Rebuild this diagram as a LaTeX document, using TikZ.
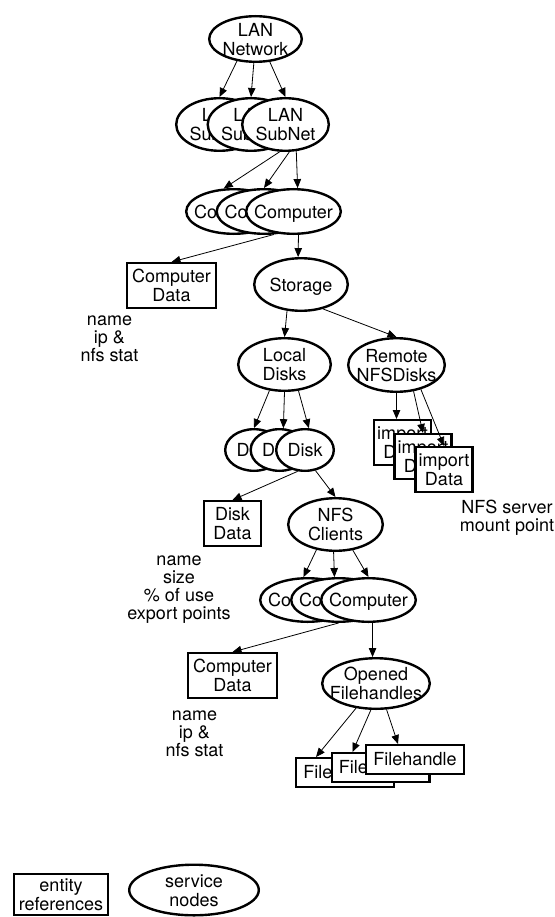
\documentclass[tikz,border=0pt]{standalone}
\usepackage{fontspec}
\setmainfont{TeX Gyre Heros}
\usetikzlibrary{shapes.geometric,arrows.meta,calc}
\newcommand\zc[1]{\smash{\makebox[0pt]{\raisebox{-0.5\height}{\begin{tabular}[b]{@{}c@{}}#1\end{tabular}}}}}
\begin{document}
\begin{tikzpicture}[x=1pt,y=-1pt,
  txt/.style={font=\fontsize{18}{19}\selectfont},
  svc/.style={ellipse,draw,line width=2.4pt,fill=white,inner sep=0pt,txt},
  ent/.style={rectangle,draw,line width=2.4pt,fill=white,inner sep=0pt,align=center,txt},
  note/.style={align=center,inner sep=0pt,font=\fontsize{18}{18}\selectfont},
  arr/.style={line width=0.8pt,-{Triangle[length=9pt,width=7.5pt]}}]
\useasboundingbox (0,0) rectangle (554,917);

% top
\node[svc,minimum width=92.6pt,minimum height=45.6pt] (lan) at (255.5,39) {\zc{LAN\\Network}};
\node[svc,minimum width=86.6pt,minimum height=52.6pt] (sub1) at (219.5,124.5) {\zc{LAN\\SubNet}};
\node[svc,minimum width=86.6pt,minimum height=52.6pt] (sub2) at (251,124.5) {\zc{LAN\\SubNet}};
\node[svc,minimum width=86.6pt,minimum height=52.6pt] (sub3) at (285.5,124.5) {\zc{LAN\\SubNet}};
\node[svc,minimum width=94.6pt,minimum height=44.6pt] (comp1) at (233.5,211.5) {\zc{Computer}};
\node[svc,minimum width=94.6pt,minimum height=44.6pt] (comp2) at (264,211.5) {\zc{Computer}};
\node[svc,minimum width=94.6pt,minimum height=44.6pt] (comp3) at (293.5,211.5) {\zc{Computer}};
\node[ent,minimum width=88.6pt,minimum height=44.6pt] (compdata) at (171.5,285.5) {Computer\\Data};
\node[note] (note1) at (109.5,339) {name\\ip \&\\nfs stat};
\node[svc,minimum width=93.6pt,minimum height=52.6pt] (storage) at (301,284.5) {\zc{Storage}};
\node[svc,minimum width=92.6pt,minimum height=52.6pt] (local) at (284.5,364.5) {\zc{Local\\Disks}};
\node[svc,minimum width=96.6pt,minimum height=53.6pt] (remote) at (396.5,365) {\zc{Remote\\NFSDisks}};
\node[ent,minimum width=57pt,minimum height=44.6pt] (imp1) at (402.5,442.5) {import\\Data};
\node[ent,minimum width=57pt,minimum height=44.6pt] (imp2) at (423,456.5) {import\\Data};
\node[ent,minimum width=57pt,minimum height=44.6pt] (imp3) at (444,469.5) {import\\Data};
\node[note] (note2) at (507,518) {NFS server\\mount point};
% disks
\node[svc,minimum width=57.6pt,minimum height=41.6pt] (disk1) at (254,450) {\zc{Disk}};
\node[svc,minimum width=57.6pt,minimum height=41.6pt] (disk2) at (279.5,450) {\zc{Disk}};
\node[svc,minimum width=57.6pt,minimum height=41.6pt] (disk3) at (305,450) {\zc{Disk}};
\node[ent,minimum width=56.6pt,minimum height=44.6pt] (diskdata) at (232.5,523.5) {Disk\\Data};
\node[note] (note3) at (179,589.5) {name\\size\\\% of use\\export points};
\node[svc,minimum width=94.6pt,minimum height=52.6pt] (nfs) at (335.5,524.5) {\zc{NFS\\Clients}};
\node[svc,minimum width=94.6pt,minimum height=43.6pt] (comp4) at (307.5,600) {\zc{Computer}};
\node[svc,minimum width=94.6pt,minimum height=43.6pt] (comp5) at (338.5,600) {\zc{Computer}};
\node[svc,minimum width=94.6pt,minimum height=43.6pt] (comp6) at (368.5,600) {\zc{Computer}};
\node[ent,minimum width=88.6pt,minimum height=44.6pt] (compdata2) at (232.5,675.5) {Computer\\Data};
\node[note] (note4) at (194.5,733.3) {name\\ip \&\\nfs stat};
\node[svc,minimum width=107.6pt,minimum height=50.6pt] (opened) at (376,683.5) {\zc{Opened\\Filehandles}};
\node[ent,minimum width=97.6pt,minimum height=28.6pt] (file1) at (345,772.5) {Filehandle};
\node[ent,minimum width=97.6pt,minimum height=28.6pt] (file2) at (380.5,767.5) {Filehandle};
\node[ent,minimum width=97.6pt,minimum height=28.6pt] (file3) at (415,759.5) {Filehandle};
% legend
\node[ent,minimum width=93.6pt,minimum height=40.6pt] (legent) at (61,894.5) {entity\\references};
\node[svc,minimum width=129.6pt,minimum height=50.6pt] (legsvc) at (194,890) {\zc{service\\nodes}};

% connectors
\draw[arr] (lan.230) -- (sub1.north);
\draw[arr] (lan.266) -- (sub2.north);
\draw[arr] (lan.302) -- (sub3.north);
\draw[arr] (sub3.258) -- (comp1.113);
\draw[arr] (sub3.278) -- (comp2.north);
\draw[arr] (sub3.292) -- (comp3.80);
\draw[arr] (comp2.293) -- (compdata.north);
\draw[arr] (comp3.282) -- (storage.96);
\draw[arr] (storage.242) -- (local.north);
\draw[arr] (storage.312) -- (remote.north);
\draw[arr] (local.240) -- (disk1.north);
\draw[arr] (local.270) -- (disk2.80);
\draw[arr] (local.298) -- (disk3.80);
\draw[arr] (remote.south) -- (remote.south |- imp1.north);
\draw[arr] (remote.303) -- (imp2.north);
\draw[arr] (remote.315) -- (imp3.north);
\draw[arr] (disk3.251) -- (diskdata.north);
\draw[arr] (disk3.297) -- (nfs.north);
\draw[arr] (nfs.233) -- (comp4.100);
\draw[arr] (nfs.266) -- (comp5.100);
\draw[arr] (nfs.304) -- (comp6.north);
\draw[arr] (comp5.south) -- (compdata2.north);
\draw[arr] (comp6.280) -- (comp6.280 |- opened.north);
\draw[arr] (opened.231) -- ($(file1.north west)!0.21!(file1.north east)$);
\draw[arr] (opened.259) -- ($(file2.north west)!0.22!(file2.north east)$);
\draw[arr] (opened.292) -- ($(file3.north west)!0.33!(file3.north east)$);
\end{tikzpicture}
\end{document}
